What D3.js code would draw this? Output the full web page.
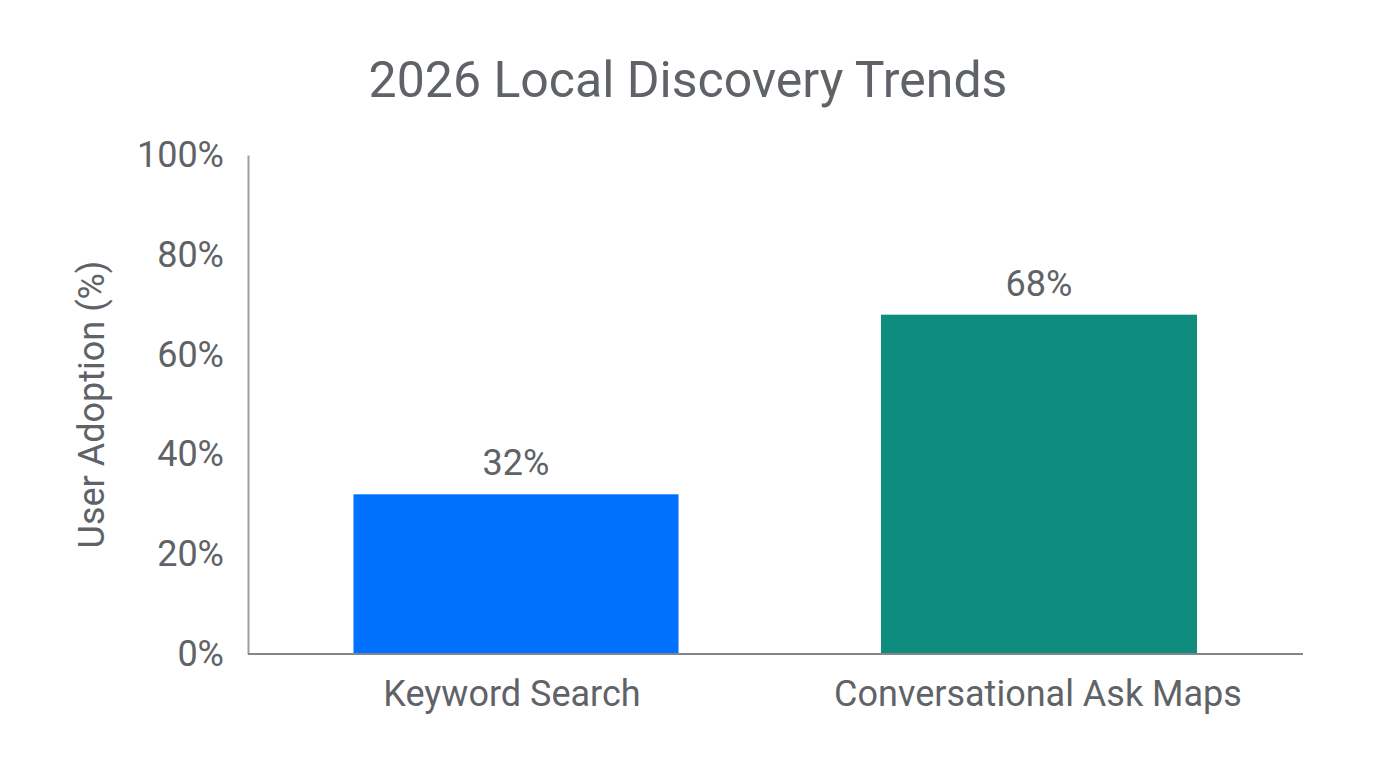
<!DOCTYPE html>
<html>
<head>
<meta charset="utf-8">
<script src="https://cdnjs.cloudflare.com/ajax/libs/d3/7.8.5/d3.min.js"></script>
<style>
  html, body { margin: 0; padding: 0; background: #fff; }
  svg { display: block; }
  text { font-family: Roboto, sans-serif; fill: #5f6368; }
</style>
</head>
<body>
<svg id="chart" width="1376" height="768"></svg>
<script>
const categories = ["Keyword Search", "Conversational Ask Maps"];
const adoption = [32, 68];
const barColors = ["#0070ff", "#0e8d7f"];
const yTicks = [0, 20, 40, 60, 80, 100];
const chartTitle = "2026 Local Discovery Trends";
const yTitle = "User Adoption (%)";

const plotLeft = 248, plotRight = 1303, plotTop = 155, plotBottom = 654;
// bars are not quite symmetric in the picture, so each gets its own centre
const barCenters = [516, 1039];
const barWidths = [325, 316];
const labelCenters = [512, 1038];

const svg = d3.select("#chart");
const y = d3.scaleLinear().domain([0, 100]).range([plotBottom, plotTop]);
const x = d3.scaleOrdinal().domain(categories).range(barCenters);
const xLabel = d3.scaleOrdinal().domain(categories).range(labelCenters);
const bw = d3.scaleOrdinal().domain(categories).range(barWidths);
const color = d3.scaleOrdinal().domain(categories).range(barColors);

svg.append("text").attr("x", 688).attr("y", 97)
  .attr("text-anchor", "middle").attr("font-size", 50).text(chartTitle);

svg.append("text")
  .attr("transform", `translate(104,${(plotBottom + plotTop) / 2 + 0}) rotate(-90)`)
  .attr("text-anchor", "middle").attr("font-size", 36).text(yTitle);

const rows = categories.map((c, i) => ({ c, v: adoption[i] }));

svg.selectAll(".bar").data(rows).join("rect")
  .attr("class", "bar")
  .attr("x", d => x(d.c) - bw(d.c) / 2)
  .attr("width", d => bw(d.c))
  .attr("y", d => y(d.v))
  .attr("height", d => y(0) - y(d.v))
  .attr("fill", d => color(d.c));

svg.selectAll(".value").data(rows).join("text")
  .attr("class", "value")
  .attr("x", d => x(d.c))
  .attr("y", d => y(d.v) - 19)
  .attr("text-anchor", "middle").attr("font-size", 36)
  .text(d => d.v + "%");

const yAxis = d3.axisLeft(y).tickValues(yTicks).tickFormat(d => d + "%").tickSize(0).tickPadding(24);
const gy = svg.append("g").attr("transform", `translate(${plotLeft},0)`).call(yAxis);
gy.selectAll("text").attr("font-size", 36).attr("font-family", null);
gy.attr("font-family", null);
gy.select(".domain").attr("stroke", "#9aa0a6").attr("stroke-width", 2);

const gx = svg.append("g").attr("transform", `translate(0,${plotBottom})`);
gx.append("line").attr("x1", plotLeft).attr("x2", plotRight).attr("stroke", "#80868b").attr("stroke-width", 2);
gx.selectAll(".cat").data(categories).join("text")
  .attr("class", "cat")
  .attr("x", d => xLabel(d))
  .attr("y", 52)
  .attr("text-anchor", "middle").attr("font-size", 36)
  .text(d => d);
</script>
</body>
</html>
